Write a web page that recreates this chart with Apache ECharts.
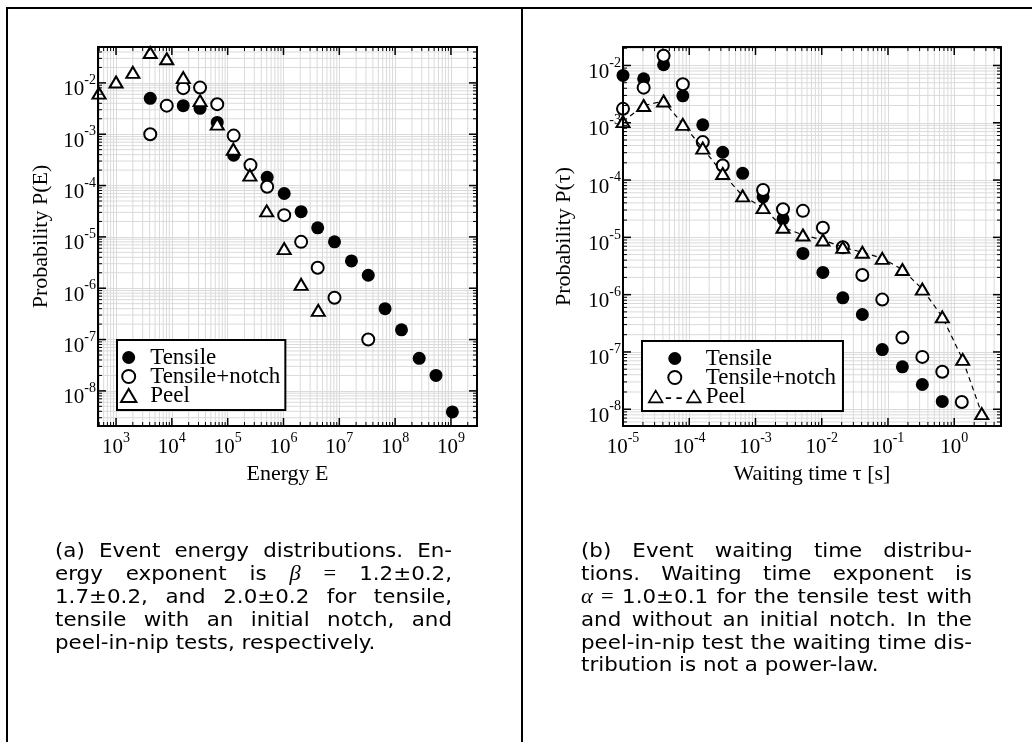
<!DOCTYPE html>
<html><head><meta charset="utf-8">
<script src="https://cdn.jsdelivr.net/npm/echarts@6/dist/echarts.min.js"></script>
<style>html,body{margin:0;padding:0;background:#fff}#c{width:1032px;height:742px}</style>
</head><body><div id="c"></div><script>
// ---------------- data ----------------
const energyTensileE = [4.1e3,1.6e4,3.2e4,6.5e4,1.28e5,5.1e5,1.03e6,2.07e6,4.1e6,8.2e6,1.65e7,3.3e7,6.6e7,1.3e8,2.7e8,5.4e8,1.06e9];
const energyTensileP = [5.0e-3,3.6e-3,3.2e-3,1.7e-3,3.9e-4,1.45e-4,7.0e-5,3.1e-5,1.5e-5,8.0e-6,3.4e-6,1.79e-6,4.0e-7,1.55e-7,4.3e-8,2.0e-8,3.9e-9];
const energyNotchE = [4.1e3,8.1e3,1.6e4,3.2e4,6.5e4,1.28e5,2.56e5,5.1e5,1.03e6,2.07e6,4.1e6,8.2e6,3.3e7];
const energyNotchP = [1.0e-3,3.6e-3,7.9e-3,8.1e-3,3.85e-3,9.4e-4,2.5e-4,9.5e-5,2.65e-5,8.0e-6,2.5e-6,6.5e-7,1.0e-7];
const energyPeelE = [495,1.0e3,2.0e3,4.1e3,8.1e3,1.6e4,3.2e4,6.5e4,1.26e5,2.5e5,5.0e5,1.03e6,2.07e6,4.2e6];
const energyPeelP = [6.3e-3,1.04e-2,1.6e-2,3.9e-2,2.95e-2,1.27e-2,4.5e-3,1.57e-3,5.1e-4,1.6e-4,3.2e-5,5.9e-6,1.19e-6,3.7e-7];

const waitTensileT = [1.0e-5,2.05e-5,4.1e-5,8.0e-5,1.6e-4,3.2e-4,6.4e-4,1.3e-3,2.6e-3,5.2e-3,1.04e-2,2.08e-2,4.1e-2,8.2e-2,0.165,0.33,0.66];
const waitTensileP = [6.7e-3,5.85e-3,1.03e-2,2.95e-3,9.2e-4,3.06e-4,1.31e-4,5.1e-5,2.1e-5,5.25e-6,2.44e-6,8.8e-7,4.5e-7,1.1e-7,5.5e-8,2.7e-8,1.37e-8];
const waitNotchT = [1.0e-5,2.05e-5,4.1e-5,8.0e-5,1.6e-4,3.2e-4,1.3e-3,2.6e-3,5.2e-3,1.04e-2,2.08e-2,4.1e-2,8.2e-2,0.165,0.33,0.66,1.3];
const waitNotchP = [1.75e-3,4.1e-3,1.48e-2,4.7e-3,4.6e-4,1.8e-4,6.7e-5,3.1e-5,2.9e-5,1.47e-5,6.7e-6,2.2e-6,8.2e-7,1.78e-7,8.2e-8,4.5e-8,1.34e-8];
const waitPeelT = [1.0e-5,2.05e-5,4.1e-5,8.0e-5,1.6e-4,3.2e-4,6.4e-4,1.3e-3,2.6e-3,5.2e-3,1.04e-2,2.08e-2,4.1e-2,8.2e-2,0.165,0.33,0.66,1.34,2.6];
const waitPeelP = [1.05e-3,2.0e-3,2.4e-3,9.4e-4,3.6e-4,1.3e-4,5.3e-5,3.3e-5,1.5e-5,1.1e-5,9.0e-6,6.7e-6,5.5e-6,4.3e-6,2.75e-6,1.25e-6,4.1e-7,7.4e-8,8.4e-9];

const seriesNames = ['Tensile', 'Tensile+notch', 'Peel'];
const axisNames = ['Energy E', 'Probability P(E)', 'Waiting time \u03c4 [s]', 'Probability P(\u03c4)'];
const energyRangeX = [475, 2.93e9];
const energyRangeY = [2.07e-9, 0.05];
const waitRangeX = [1e-5, 5.08];
const waitRangeY = [5.1e-9, 0.021];

const captionA = [
  ['(a)','Event','energy','distributions.','En-'],
  ['ergy','exponent','is','$\u03b2','=','1.2\u00b10.2,'],
  ['1.7\u00b10.2,','and','2.0\u00b10.2','for','tensile,'],
  ['tensile','with','an','initial','notch,','and'],
  ['peel-in-nip','tests,','respectively.']
];
const captionB = [
  ['(b)','Event','waiting','time','distribu-'],
  ['tions.','Waiting','time','exponent','is'],
  ['$\u03b1','=','1.0\u00b10.1','for','the','tensile','test','with'],
  ['and','without','an','initial','notch.','In','the'],
  ['peel-in-nip','test','the','waiting','time','dis-'],
  ['tribution','is','not','a','power-law.']
];

// ---------------- helpers ----------------
const serif = '"Liberation Serif", "Times New Roman", serif';
const zip = (a, b) => a.map((v, i) => [v, b[i]]);

function logLabel(v) {
  const e = Math.log10(v), n = Math.round(e);
  if (Math.abs(e - n) > 1e-6) return '';
  return '{b|10}{s|' + n + '}';
}
const rich = {
  b: { fontFamily: serif, fontSize: 21, color: '#000', padding: [6, 0, 0, 0], verticalAlign: 'bottom' },
  s: { fontFamily: serif, fontSize: 14, color: '#000', verticalAlign: 'top' }
};
function minorVals(r) {
  const out = [];
  for (let n = Math.floor(Math.log10(r[0])); n <= Math.ceil(Math.log10(r[1])); n++)
    for (let k = 2; k <= 9; k++) { const v = k * Math.pow(10, n); if (v > r[0] && v < r[1]) out.push(v); }
  return out;
}
function majorVals(r) {
  const out = [];
  for (let n = Math.ceil(Math.log10(r[0]) - 1e-9); n <= Math.floor(Math.log10(r[1]) + 1e-9); n++) out.push(Math.pow(10, n));
  return out;
}
function decorRender(xr, yr, isGrid) {
  return function (params, api) {
    const a = api.coord([xr[0], yr[0]]), b = api.coord([xr[1], yr[1]]);
    const L = a[0], B = a[1], R = b[0], T = b[1];
    const ch = [];
    const seg = (x1, y1, x2, y2, st) => ch.push({ type: 'line', shape: { x1, y1, x2, y2 }, style: st });
    const xm = minorVals(xr), ym = minorVals(yr), xM = majorVals(xr), yM = majorVals(yr);
    if (isGrid) {
      const g = { stroke: '#dadada', lineWidth: 1 };
      xm.forEach(v => { const x = api.coord([v, yr[0]])[0]; seg(x, T, x, B, g); });
      ym.forEach(v => { const y = api.coord([xr[0], v])[1]; seg(L, y, R, y, g); });
    } else {
      const t1 = { stroke: '#000', lineWidth: 1 }, t2 = { stroke: '#000', lineWidth: 1.5 };
      xm.forEach(v => { const x = api.coord([v, yr[0]])[0]; seg(x, B, x, B - 4, t1); seg(x, T, x, T + 4, t1); });
      xM.forEach(v => { const x = api.coord([v, yr[0]])[0]; seg(x, B, x, B - 8, t2); seg(x, T, x, T + 8, t2); });
      ym.forEach(v => { const y = api.coord([xr[0], v])[1]; seg(L, y, L + 4, y, t1); seg(R, y, R - 4, y, t1); });
      yM.forEach(v => { const y = api.coord([xr[0], v])[1]; seg(L, y, L + 8, y, t2); seg(R, y, R - 8, y, t2); });
      ch.push({ type: 'rect', shape: { x: L, y: T, width: R - L, height: B - T }, style: { fill: 'none', stroke: '#000', lineWidth: 2 } });
    }
    return { type: 'group', children: ch };
  };
}
function xAxisOpt(idx, range, name) {
  return {
    type: 'log', logBase: 10, gridIndex: idx, min: range[0], max: range[1],
    axisLine: { show: false }, axisTick: { show: false },
    splitLine: { show: true, lineStyle: { color: '#dadada', width: 1 } },
    axisLabel: { formatter: logLabel, rich: rich, margin: 5, color: '#000' },
    name: name, nameLocation: 'middle', nameGap: 30,
    nameTextStyle: { fontFamily: serif, fontSize: 22, color: '#000' }
  };
}
function yAxisOpt(idx, range, name, gap) {
  return {
    type: 'log', logBase: 10, gridIndex: idx, min: range[0], max: range[1],
    axisLine: { show: false }, axisTick: { show: false },
    splitLine: { show: true, lineStyle: { color: '#dadada', width: 1 } },
    axisLabel: { formatter: logLabel, rich: rich, margin: 2, color: '#000', padding: [8, 0, 0, 0] },
    name: name, nameLocation: 'middle', nameGap: gap,
    nameTextStyle: { fontFamily: serif, fontSize: 22, color: '#000' }
  };
}
const filledStyle = { color: '#000', borderColor: '#000', borderWidth: 0, opacity: 1 };
const openStyle = { color: '#fff', borderColor: '#000', borderWidth: 2, opacity: 1 };

function plotSeries(idx, xr, yr, tens, notch, peel, peelLine) {
  return [
    { type: 'custom', xAxisIndex: idx, yAxisIndex: idx, z: 1, silent: true, clip: false,
      renderItem: decorRender(xr, yr, true), data: [[xr[0], yr[0]]] },
    { type: 'scatter', name: seriesNames[0], xAxisIndex: idx, yAxisIndex: idx, z: 3,
      symbol: 'circle', symbolSize: 13, itemStyle: filledStyle, data: tens },
    { type: 'scatter', name: seriesNames[1], xAxisIndex: idx, yAxisIndex: idx, z: 4,
      symbol: 'circle', symbolSize: 12, itemStyle: openStyle, data: notch },
    peelLine ?
    { type: 'line', name: seriesNames[2], xAxisIndex: idx, yAxisIndex: idx, z: 5,
      symbol: 'triangle', symbolSize: [13, 11], showAllSymbol: true, itemStyle: openStyle,
      lineStyle: { color: '#000', width: 1.2, type: [5, 4] }, data: peel } :
    { type: 'scatter', name: seriesNames[2], xAxisIndex: idx, yAxisIndex: idx, z: 5,
      symbol: 'triangle', symbolSize: [13, 11], itemStyle: openStyle, data: peel },
    { type: 'custom', xAxisIndex: idx, yAxisIndex: idx, z: 10, silent: true, clip: false,
      renderItem: decorRender(xr, yr, false), data: [[xr[0], yr[0]]] }
  ];
}

// ---------------- captions (justified text) ----------------
const SX = 1.07;
const capFont = '20px "DejaVu Sans"';
const mathFont = 'italic 21px "Liberation Serif"';
const eqFont = '21px "Liberation Serif"';
const mctx = document.createElement('canvas').getContext('2d');
function measure(t, f) { mctx.font = f; return mctx.measureText(t).width; }
function captionEls(lines, x0, width, y0, lh) {
  const els = [];
  lines.forEach((words, i) => {
    const items = words.map(w => {
      if (w[0] === '$') return { t: w.slice(1), f: mathFont };
      if (w === '=') return { t: w, f: eqFont };
      return { t: w, f: capFont };
    });
    const ws = items.map(it => measure(it.t, it.f) * SX);
    const total = ws.reduce((p, q) => p + q, 0);
    const last = i === lines.length - 1;
    const gap = last ? measure(' ', capFont) * SX : (width - total) / (items.length - 1);
    let x = x0;
    items.forEach((it, j) => {
      els.push({ type: 'text', x: x, y: y0 + i * lh, scaleX: SX, silent: true,
        style: { text: it.t, font: it.f, fill: '#000', verticalAlign: 'middle', align: 'left' } });
      x += ws[j] + gap;
    });
  });
  return els;
}
const frameStyle = { stroke: '#000', lineWidth: 2 };
const graphics = [
  { type: 'line', shape: { x1: 7, y1: 8, x2: 1032, y2: 8 }, style: frameStyle, silent: true },
  { type: 'line', shape: { x1: 7, y1: 7, x2: 7, y2: 742 }, style: frameStyle, silent: true },
  { type: 'line', shape: { x1: 522, y1: 7, x2: 522, y2: 742 }, style: frameStyle, silent: true }
].concat(captionEls(captionA, 55, 397, 551.7, 22.9))
 .concat(captionEls(captionB, 581, 391, 551.7, 22.9));

// ---------------- legends ----------------
const triPath = 'path://M0 11 L6.5 0 L13 11 Z';
const peelPath = 'path://M1 12 L7.5 1 L14 12 Z M17 8 L22 8 M27 8 L32 8 M37 12 L43.5 1 L50 12 Z';
const legendText = { fontFamily: serif, fontSize: 23, color: '#000' };
function legendOpt(left, top, peelIcon, itemWidth, padL, padR) {
  return {
    left: left, top: top, orient: 'vertical', selectedMode: false,
    itemWidth: itemWidth, itemHeight: 13, itemGap: -4, symbolKeepAspect: true,
    padding: [6, padR, 3, padL], backgroundColor: '#fff', borderColor: '#000', borderWidth: 2, borderRadius: 0,
    textStyle: legendText,
    data: [
      { name: seriesNames[0], icon: 'circle', itemStyle: filledStyle },
      { name: seriesNames[1], icon: 'circle', itemStyle: openStyle },
      { name: seriesNames[2], icon: peelIcon, itemStyle: { color: '#fff', borderColor: '#000', borderWidth: peelIcon === triPath ? 2 : 1.6, opacity: 1 } }
    ]
  };
}

const chart = echarts.init(document.getElementById('c'), null, { renderer: 'canvas' });
chart.setOption({
  animation: false,
  backgroundColor: '#fff',
  grid: [
    { left: 98, top: 47, width: 379, height: 379 },
    { left: 623, top: 47, width: 378, height: 379 }
  ],
  xAxis: [xAxisOpt(0, energyRangeX, axisNames[0]), xAxisOpt(1, waitRangeX, axisNames[2])],
  yAxis: [yAxisOpt(0, energyRangeY, axisNames[1], 46), yAxisOpt(1, waitRangeY, axisNames[3], 48)],
  legend: [legendOpt(117, 340, triPath, 33, 3, 5), legendOpt(642, 341, peelPath, 52, 6, 7)],
  series: plotSeries(0, energyRangeX, energyRangeY,
      zip(energyTensileE, energyTensileP), zip(energyNotchE, energyNotchP), zip(energyPeelE, energyPeelP), false)
    .concat(plotSeries(1, waitRangeX, waitRangeY,
      zip(waitTensileT, waitTensileP), zip(waitNotchT, waitNotchP), zip(waitPeelT, waitPeelP), true)),
  graphic: graphics
});
</script></body></html>
